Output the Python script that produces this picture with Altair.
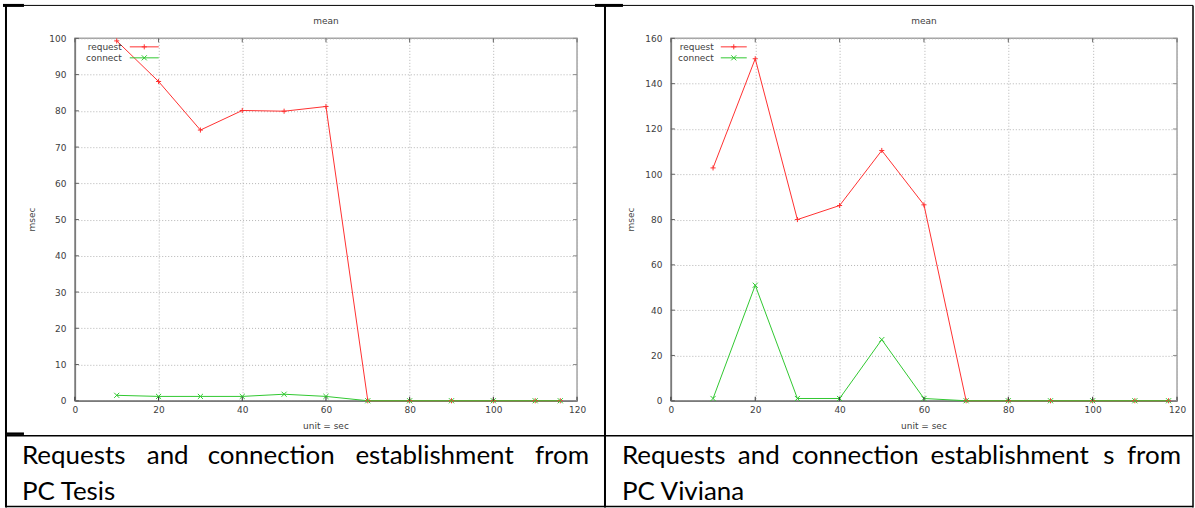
import altair as alt
import pandas as pd

# Mean response times (msec) per 10 s window for the two client PCs
tesis_sec = [10, 20, 30, 40, 50, 60, 70, 80, 90, 100, 110, 116]
tesis_request = [99.3, 88.1, 74.7, 80.1, 79.9, 81.2, 0, 0, 0, 0, 0, 0]
tesis_connect = [1.5, 1.2, 1.2, 1.2, 1.8, 1.2, 0, 0, 0, 0, 0, 0]

viviana_sec = [10, 20, 30, 40, 50, 60, 70, 80, 90, 100, 110, 118]
viviana_request = [102.8, 151.0, 80.0, 86.2, 110.5, 86.5, 0, 0, 0, 0, 0, 0]
viviana_connect = [1.0, 51.0, 1.0, 1.0, 27.0, 1.0, 0, 0, 0, 0, 0, 0]

series_names = ["request", "connect"]
x_ticks = [0, 20, 40, 60, 80, 100, 120]
tesis_y_ticks = [0, 10, 20, 30, 40, 50, 60, 70, 80, 90, 100]
viviana_y_ticks = [0, 20, 40, 60, 80, 100, 120, 140, 160]

tesis_caption = ["Requests", "and", "connection", "establishment", "from"]
tesis_caption_2 = "PC Tesis"
viviana_caption = ["Requests", "and", "connection", "establishment", "s", "from"]
viviana_caption_2 = "PC Viviana"

# ---- styling -------------------------------------------------------------
RED = "#ff3030"
GREEN = "#30c830"
INK = "#404040"
GNU_FONT = "DejaVu Sans"
DOC_FONT = "Lato"
PLUS = "M-1,0L1,0M0,-1L0,1"
CROSS = "M-1,-1L1,1M-1,1L1,-1"
PLOT_H = 363


def one_row():
    return alt.Chart(pd.DataFrame({"k": [0]}))


def seg(x1, y1, x2, y2, width=1.0, color="#000000", opacity=1.0):
    return one_row().mark_rule(color=color, strokeWidth=width, opacity=opacity).encode(
        x=alt.value(x1), x2=alt.value(x2), y=alt.value(y1), y2=alt.value(y2)
    )


def label(text, x, y, size=9, align="center", angle=0, font=GNU_FONT,
          color=INK, baseline="middle"):
    return one_row().mark_text(
        text=text, font=font, fontSize=size, align=align, angle=angle,
        color=color, baseline=baseline,
    ).encode(x=alt.value(x), y=alt.value(y))


def marker(shape, color, x, y):
    return one_row().mark_point(
        shape=shape, filled=False, color=color, size=26, strokeWidth=1, opacity=1
    ).encode(x=alt.value(x), y=alt.value(y))


def panel(sec, request, connect, y_ticks, width, lay):
    h = PLOT_H
    df = pd.DataFrame({
        "sec": sec + sec,
        "msec": request + connect,
        "series": ["request"] * len(sec) + ["connect"] * len(sec),
    })
    xscale = alt.Scale(domain=[0, 120], nice=False, zero=False)
    yscale = alt.Scale(domain=[0, y_ticks[-1]], nice=False)
    axis_common = dict(
        grid=True, gridDash=[1, 2], gridColor="#b4b4b4", gridWidth=1,
        ticks=False, tickSize=0, labelFont=GNU_FONT, labelFontSize=9,
        labelColor=INK, domainColor="#7a7a7a", domainWidth=1.5, title=None,
        labelFlush=False, labelOverlap=False,
    )
    x_axis = alt.Axis(values=x_ticks, labelPadding=5, **axis_common)
    y_axis = alt.Axis(values=y_ticks, labelPadding=9, **axis_common)
    x_enc = alt.X("sec:Q", scale=xscale, axis=x_axis)
    y_enc = alt.Y("msec:Q", scale=yscale, axis=y_axis)
    color = alt.Color("series:N", legend=None,
                      scale=alt.Scale(domain=series_names, range=[RED, GREEN]))
    shape = alt.Shape("series:N", legend=None,
                      scale=alt.Scale(domain=series_names, range=[PLUS, CROSS]))

    base = alt.Chart(df)
    lines = base.mark_line(strokeWidth=1).encode(x=x_enc, y=y_enc, color=color)
    points = base.mark_point(filled=False, size=26, strokeWidth=1, opacity=1).encode(
        x=x_enc, y=y_enc, color=color, shape=shape)

    # gnuplot style inward tick marks on all four sides
    xt = alt.Chart(pd.DataFrame({"sec": x_ticks}))
    yt = alt.Chart(pd.DataFrame({"msec": y_ticks}))
    ticks = [
        xt.mark_rule(color="#303030").encode(x=x_enc, y=alt.value(h), y2=alt.value(h - 4)),
        xt.mark_rule(color="#606060").encode(x=x_enc, y=alt.value(0), y2=alt.value(4)),
        yt.mark_rule(color="#606060").encode(y=y_enc, x=alt.value(0), x2=alt.value(4)),
        yt.mark_rule(color="#909090").encode(y=y_enc, x=alt.value(width), x2=alt.value(width - 4)),
    ]

    # legend in the upper left corner: label, line sample, marker
    lg = lay["legend"]
    legend = [
        label("request", lg[0], 8.5, align="right"),
        seg(lg[1], 8.5, lg[2], 8.5, 1, RED),
        marker(PLUS, RED, (lg[1] + lg[2]) / 2, 8.5),
        label("connect", lg[0], 19.5, align="right"),
        seg(lg[1], 19.5, lg[2], 19.5, 1, GREEN),
        marker(CROSS, GREEN, (lg[1] + lg[2]) / 2, 19.5),
    ]

    texts = [
        label("mean", width / 2, -17),
        label("msec", lay["ytitle"], h / 2, angle=270),
        label("unit = sec", width / 2, h + 25),
    ]

    words = []
    for w, (x, al) in zip(lay["words"], lay["word_pos"]):
        words.append(label(w, x, 426, size=26, align=al, font=DOC_FONT,
                           color="#000000", baseline="alphabetic"))
    words.append(label(lay["line2"], lay["word_pos"][0][0], 462, size=26,
                       align="left", font=DOC_FONT, color="#000000",
                       baseline="alphabetic"))

    borders = [seg(*b) for b in lay["borders"]]

    return alt.layer(
        lines, points, *ticks, *borders, *legend, *texts, *words
    ).properties(width=width, height=h)


left_layout = {
    "legend": (47, 55, 84),
    "ytitle": -43,
    "words": tesis_caption,
    "word_pos": [(-53, "left"), (72, "left"), (133, "left"), (281, "left"), (515, "right")],
    "line2": tesis_caption_2,
    "borders": [
        (-73, -37, -72, -36, 1, "#ffffff", 0),      # layout anchor
        (-69, -33, -69, 470, 2),                    # outer left edge
        (-72, -33, 531, -33, 1),                    # top edge
        (-72, -33, -51, -33, 3),
        (521, -33, 531, -33, 3),
        (531, -33, 531, 470, 2),                    # centre divider
        (-69, 398, 531, 398, 1.5),                  # row divider
        (-68, 396, -51, 396, 2.5),
        (-69, 469, 531, 469, 1.5),                  # bottom edge
    ],
}

right_layout = {
    "legend": (43, 50, 76),
    "ytitle": -40,
    "words": viviana_caption,
    "word_pos": [(-49, "left"), (67, "left"), (121, "left"), (260, "left"),
                 (433, "left"), (511, "right")],
    "line2": viviana_caption_2,
    "borders": [
        (-66, -33, 523, -33, 1),
        (-66, -33, -48, -33, 3),
        (523, -33, 523, 470, 1.5),
        (-66, 398, 523, 398, 1.5),
        (-66, 469, 523, 469, 1.5),
    ],
}

left = panel(tesis_sec, tesis_request, tesis_connect, tesis_y_ticks, 503, left_layout)
right = panel(viviana_sec, viviana_request, viviana_connect, viviana_y_ticks, 507, right_layout)

chart = alt.hconcat(left, right, spacing=94, bounds="flush").properties(
    padding=0
).configure_view(stroke="#a4a4a4", strokeWidth=1.5)

chart.save("out.html", embed_options={"renderer": "svg", "actions": False})
